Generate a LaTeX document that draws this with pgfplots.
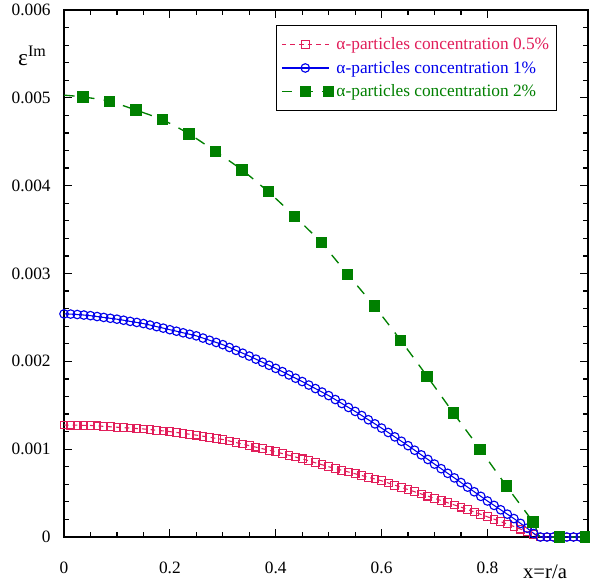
\documentclass[border=0pt]{standalone}
\usepackage{fontspec}
\setmainfont{Liberation Serif}
\usepackage{pgfplots}
\pgfplotsset{compat=1.18}
\usepackage{pgfplotstable}
\definecolor{redc}{RGB}{225,30,90}
\definecolor{bluec}{RGB}{0,0,235}
\definecolor{greenc}{RGB}{0,128,0}

% alpha-particles concentration 0.5%
\pgfplotstableread{
x y
0 0.001275
0.0125 0.001274
0.025 0.001273
0.0375 0.001271
0.05 0.00127
0.0625 0.001265
0.075 0.00126
0.0875 0.001255
0.1 0.00125
0.1125 0.001245
0.125 0.00124
0.1375 0.001235
0.15 0.00123
0.1625 0.001223
0.175 0.001215
0.1875 0.001208
0.2 0.0012
0.2125 0.00119
0.225 0.00118
0.2375 0.00117
0.25 0.00116
0.2625 0.001148
0.275 0.001135
0.2875 0.001123
0.3 0.00111
0.3125 0.001093
0.325 0.001075
0.3375 0.001058
0.35 0.00104
0.3625 0.001023
0.375 0.001005
0.3875 0.000988
0.4 0.00097
0.4125 0.00095
0.425 0.00093
0.4375 0.00091
0.45 0.00089
0.4625 0.000868
0.475 0.000845
0.4875 0.000823
0.5 0.0008
0.5125 0.00078
0.525 0.00076
0.5375 0.00074
0.55 0.00072
0.5625 0.0007
0.575 0.00068
0.5875 0.00066
0.6 0.00064
0.6125 0.000615
0.625 0.00059
0.6375 0.000565
0.65 0.00054
0.6625 0.000515
0.675 0.00049
0.6875 0.000465
0.7 0.00044
0.7125 0.000415
0.725 0.00039
0.7375 0.000365
0.75 0.00034
0.7625 0.000313
0.775 0.000285
0.7875 0.000258
0.8 0.00023
0.8125 0.000203
0.825 0.000175
0.8375 0.000148
0.85 0.00012
0.8625 0.00009
0.875 0.00006
0.8875 0.00003
0.9 0
0.9125 0
0.925 0
0.9375 0
0.95 0
0.9625 0
0.975 0
0.9875 0
}\halfpct

% 1%
\pgfplotstableread{
x y
0 0.00254
0.0125 0.002538
0.025 0.002533
0.0375 0.002527
0.05 0.00252
0.0625 0.00251
0.075 0.0025
0.0875 0.00249
0.1 0.00248
0.1125 0.002468
0.125 0.002455
0.1375 0.002443
0.15 0.00243
0.1625 0.002413
0.175 0.002395
0.1875 0.002378
0.2 0.00236
0.2125 0.002343
0.225 0.002325
0.2375 0.002308
0.25 0.00229
0.2625 0.002265
0.275 0.00224
0.2875 0.002215
0.3 0.00219
0.3125 0.002158
0.325 0.002125
0.3375 0.002093
0.35 0.00206
0.3625 0.002025
0.375 0.00199
0.3875 0.001955
0.4 0.00192
0.4125 0.001883
0.425 0.001845
0.4375 0.001808
0.45 0.00177
0.4625 0.00173
0.475 0.00169
0.4875 0.00165
0.5 0.00161
0.5125 0.001565
0.525 0.00152
0.5375 0.001475
0.55 0.00143
0.5625 0.001383
0.575 0.001335
0.5875 0.001288
0.6 0.00124
0.6125 0.00119
0.625 0.00114
0.6375 0.00109
0.65 0.00104
0.6625 0.000988
0.675 0.000935
0.6875 0.000883
0.7 0.00083
0.7125 0.000778
0.725 0.000725
0.7375 0.000673
0.75 0.00062
0.7625 0.000568
0.775 0.000515
0.7875 0.000463
0.8 0.00041
0.8125 0.00036
0.825 0.00031
0.8375 0.00026
0.85 0.00021
0.8625 0.000155
0.875 0.0001
0.8875 0.00004
0.9 0
0.9125 0
0.925 0
0.9375 0
0.95 0
0.9625 0
0.975 0
0.9875 0
}\onepct

% 2%  (first and 0.9 rows belong to the line only)
\pgfplotstableread{
x y
0 0.00503
0.036 0.00501
0.086 0.00496
0.136 0.00486
0.186 0.00475
0.236 0.00459
0.286 0.00439
0.336 0.00418
0.386 0.00393
0.436 0.00365
0.486 0.00335
0.536 0.00299
0.586 0.00263
0.636 0.00224
0.686 0.00183
0.736 0.00141
0.786 0.00100
0.836 0.00058
0.886 0.00017
0.9 0
0.936 0
0.986 0
}\twopct

\begin{document}
\begin{tikzpicture}
\begin{axis}[
  scale only axis,
  width=393pt, height=395.25pt,
  xmin=0, xmax=0.99, ymin=0, ymax=0.006,
  xtick={0,0.2,0.4,0.6,0.8},
  ytick={0,0.001,...,0.006},
  minor x tick num=3, minor y tick num=4,
  major tick length=6pt, minor tick length=3.5pt,
  tick style={black, line width=0.9pt},
  axis line style={line width=1pt},
  scaled y ticks=false,
  /pgf/number format/assume math mode=true,
  y tick label style={font=\fontsize{13}{15}\selectfont, xshift=-6.5pt},
  x tick label style={font=\fontsize{13}{15}\selectfont, yshift=-11pt},
  xticklabel shift=4pt,
  yticklabel={\pgfmathprintnumber[fixed,precision=3]{\tick}},
  xticklabel={\pgfmathprintnumber[fixed]{\tick}},
  xlabel={x=r/a},
  xlabel style={at={(axis description cs:0.918,-0.066)}, anchor=center, font=\fontsize{15.5}{17}\selectfont},
  ylabel={\fontsize{17.5}{18}\selectfont ε\raisebox{0.85ex}{\fontsize{12}{12}\selectfont Im}},
  ylabel style={at={(axis description cs:-0.061,0.913)}, anchor=center, rotate=-90},
  legend style={at={(0.941,0.9715)}, anchor=north east, draw=black, line width=0.9pt,
    font=\fontsize{13}{15}\selectfont, inner xsep=3.5pt, inner ysep=7pt,
    row sep=3pt},
  legend cell align=left,
  legend image code/.code={\draw[mark repeat=2,mark phase=2,#1] plot coordinates {(0cm,0cm) (0.62cm,0cm) (1.24cm,0cm)};},
]
\addplot[redc, line width=0.8pt, dash pattern=on 3.5pt off 3pt, mark=square, mark size=2.9pt,
  mark options={solid, line width=0.8pt}] table {\halfpct};
\addlegendentry{\textcolor{redc}{α-particles concentration 0.5\%}}
\addplot[bluec, line width=0.8pt, mark=o, mark size=3.2pt,
  mark options={solid, line width=0.85pt}] table {\onepct};
\addlegendentry{\textcolor{bluec}{α-particles concentration 1\%}}
\addplot[greenc, line width=1pt, smooth, dash pattern=on 8pt off 7pt, mark=square*, mark size=3.75pt,
  mark options={solid}, mark indices={2,3,4,5,6,7,8,9,10,11,12,13,14,15,16,17,18,19,21,22}] table {\twopct};
\addlegendentry{\textcolor{greenc}{α-particles concentration 2\%}}
\coordinate (bl) at (rel axis cs:0,0);
\coordinate (tr) at (rel axis cs:1,1);
\end{axis}
\pgfresetboundingbox
\useasboundingbox ([shift={(-48pt,-33.75pt)}]bl) rectangle ([shift={(1.5pt,7.5pt)}]tr);
\end{tikzpicture}
\end{document}
